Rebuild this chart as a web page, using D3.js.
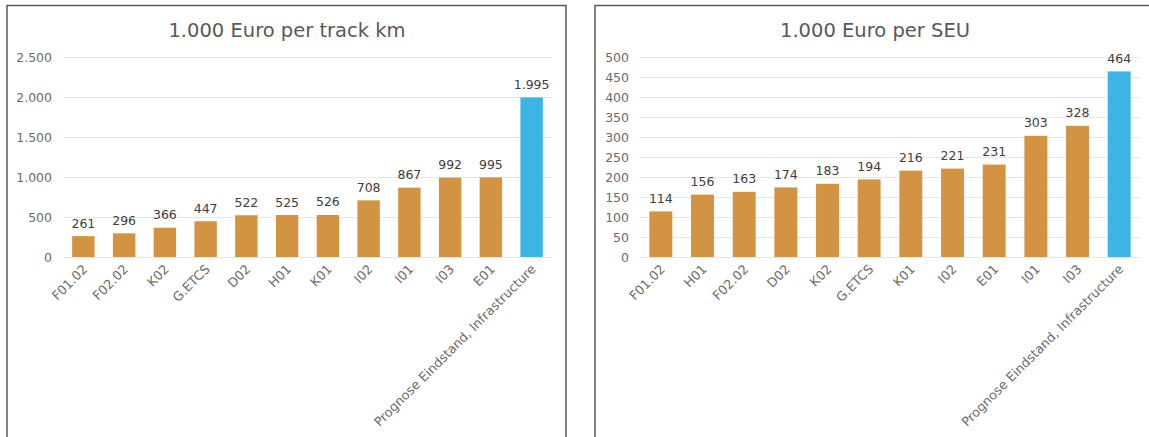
<!DOCTYPE html>
<html>
<head>
<meta charset="utf-8">
<script src="https://cdn.jsdelivr.net/npm/d3@7"></script>
<style>
  body { margin: 0; background: #fff; }
  svg { display: block; }
  text { font-family: "DejaVu Sans", Verdana, sans-serif; }
</style>
</head>
<body>
<svg id="chart" width="1149" height="437"></svg>
<script>
// values
var trackCategories = ['F01.02', 'F02.02', 'K02', 'G.ETCS', 'D02', 'H01', 'K01', 'I02', 'I01', 'I03', 'E01', 'Prognose Eindstand, Infrastructure'];
var trackValues = [261, 296, 366, 447, 522, 525, 526, 708, 867, 992, 995, 1995];
var trackTicks = [0, 500, 1000, 1500, 2000, 2500];

var seuCategories = ['F01.02', 'H01', 'F02.02', 'D02', 'K02', 'G.ETCS', 'K01', 'I02', 'E01', 'I01', 'I03', 'Prognose Eindstand, Infrastructure'];
var seuValues = [114, 156, 163, 174, 183, 194, 216, 221, 231, 303, 328, 464];
var seuTicks = [0, 50, 100, 150, 200, 250, 300, 350, 400, 450, 500];

var highlight = 'Prognose Eindstand, Infrastructure';

var de = d3.formatLocale({ decimal: ',', thousands: '.', grouping: [3], currency: ['', ' €'] });
var fmt = de.format(',d');

var svg = d3.select('#chart');

var drawPanel = function (opt) {
    var top = 57, bottom = 257;

    // frame
    svg.append('rect')
        .attr('x', opt.frame[0]).attr('y', 5.5)
        .attr('width', opt.frame[1] - opt.frame[0]).attr('height', 460)
        .attr('fill', 'none').attr('stroke', '#595959').attr('stroke-width', 1.5);

    svg.append('text')
        .attr('x', opt.titleX).attr('y', 37)
        .attr('text-anchor', 'middle')
        .attr('font-size', 19.5)
        .attr('fill', '#595959')
        .text(opt.title);

    var x = d3.scaleBand().domain(opt.cats).range([opt.left, opt.right]).paddingInner(0.45).paddingOuter(0.225);
    var y = d3.scaleLinear().domain([0, d3.max(opt.ticks)]).range([bottom, top]);

    var g = svg.append('g');

    // gridlines + y labels
    var yAxis = g.append('g')
        .attr('transform', 'translate(' + opt.left + ',0)')
        .call(d3.axisLeft(y).tickValues(opt.ticks).tickFormat(fmt).tickSize(-(opt.right - opt.left)).tickPadding(11));
    yAxis.select('.domain').remove();
    yAxis.selectAll('.tick line').attr('stroke', '#e6e6e6');
    yAxis.selectAll('.tick text').attr('fill', '#6b6b6b').attr('font-size', 12.5);

    g.selectAll('.bar')
        .data(opt.vals)
        .enter().append('rect')
        .attr('class', 'bar')
        .attr('x', function (d, i) { return x(opt.cats[i]); })
        .attr('y', function (d) { return y(d); })
        .attr('width', x.bandwidth())
        .attr('height', function (d) { return bottom - y(d); })
        .attr('fill', function (d, i) { return opt.cats[i] === highlight ? '#3cb4e5' : '#d29443'; });

    g.selectAll('.val')
        .data(opt.vals)
        .enter().append('text')
        .attr('class', 'val')
        .attr('x', function (d, i) { return x(opt.cats[i]) + x.bandwidth() / 2; })
        .attr('y', function (d) { return y(d) - 8.5; })
        .attr('text-anchor', 'middle')
        .attr('font-size', 12.5)
        .attr('fill', '#404040')
        .text(function (d) { return fmt(d); });

    // rotated category labels
    var xAxis = g.append('g')
        .attr('transform', 'translate(0,' + bottom + ')')
        .call(d3.axisBottom(x).tickSize(0).tickPadding(0));
    xAxis.select('.domain').attr('stroke', '#e6e6e6');
    xAxis.selectAll('.tick text')
        .attr('fill', '#6b6b6b')
        .attr('font-size', 12.8)
        .attr('text-anchor', 'end')
        .attr('dy', null)
        .attr('y', null)
        .attr('transform', 'translate(5,13) rotate(-45)');
};

drawPanel({ title: '1.000 Euro per track km', cats: trackCategories, vals: trackValues, ticks: trackTicks,
    left: 63, right: 552, frame: [7, 566], titleX: 287 });
drawPanel({ title: '1.000 Euro per SEU', cats: seuCategories, vals: seuValues, ticks: seuTicks,
    left: 640, right: 1140, frame: [595, 1160], titleX: 875 });
</script>
</body>
</html>
